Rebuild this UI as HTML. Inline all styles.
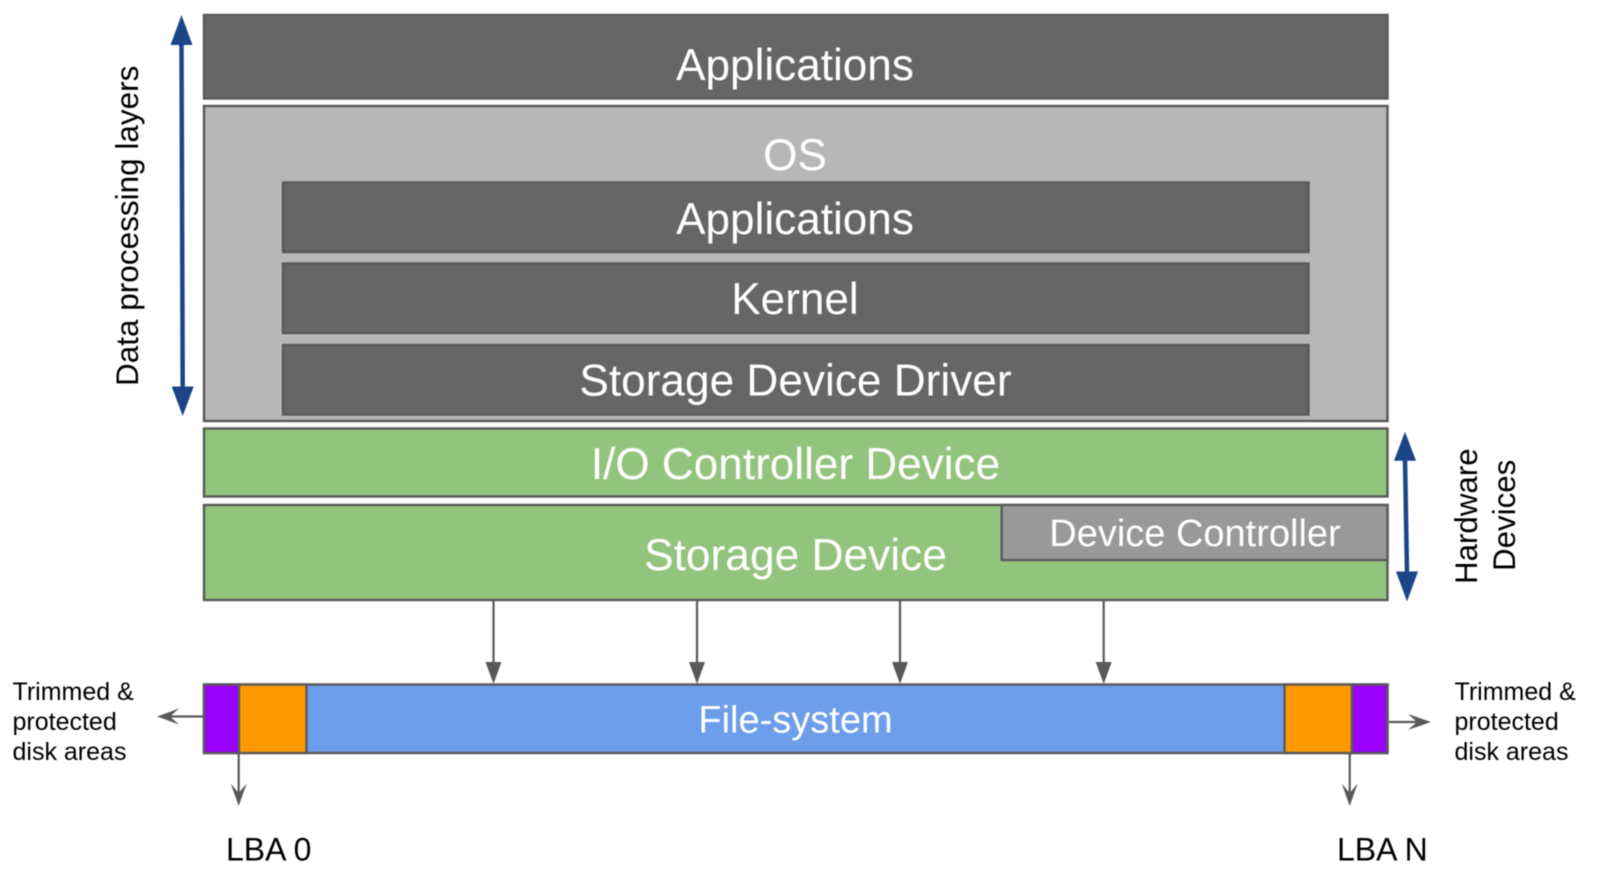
<!DOCTYPE html>
<html>
<head>
<meta charset="utf-8">
<style>
html,body{margin:0;padding:0;background:#fff;width:1600px;height:874px;overflow:hidden}
svg{display:block;filter:blur(0.4px)}
text{font-family:"Liberation Sans",Arial,sans-serif}
.w{fill:#fff;text-anchor:middle}
.b{fill:#000}
</style>
</head>
<body>
<svg width="1600" height="874" viewBox="0 0 1600 874" xmlns="http://www.w3.org/2000/svg">
<rect width="1600" height="874" fill="#fff"/>
<g stroke="#595959" stroke-width="2.4">
<rect x="204" y="15" width="1183.5" height="83.5" fill="#666666"/>
<rect x="204" y="106" width="1183.5" height="315" fill="#b7b7b7"/>
<rect x="283" y="182.5" width="1025.5" height="69.5" fill="#666666"/>
<rect x="283" y="263.5" width="1025.5" height="69.5" fill="#666666"/>
<rect x="283" y="345" width="1025.5" height="69.5" fill="#666666"/>
<rect x="204" y="428.5" width="1183.5" height="68" fill="#93c47d"/>
<rect x="204" y="505" width="1183.5" height="95" fill="#93c47d"/>
<rect x="1001.7" y="505" width="385.8" height="55" fill="#999999"/>
<rect x="204" y="684.5" width="1183.5" height="68.5" fill="#6d9eeb"/>
<rect x="204" y="684.5" width="35" height="68.5" fill="#9900ff"/>
<rect x="239" y="684.5" width="67.5" height="68.5" fill="#ff9900"/>
<rect x="1284.5" y="684.5" width="67.5" height="68.5" fill="#ff9900"/>
<rect x="1352" y="684.5" width="35.5" height="68.5" fill="#9900ff"/>
</g>

<text class="w" x="795" y="80" font-size="44.1">Applications</text>
<text class="w" x="795" y="170" font-size="44.1">OS</text>
<text class="w" x="795" y="234" font-size="44.1">Applications</text>
<text class="w" x="795" y="314" font-size="44.1">Kernel</text>
<text class="w" x="795.5" y="395.5" font-size="44.2">Storage Device Driver</text>
<text class="w" x="795.5" y="479" font-size="44.1">I/O Controller Device</text>
<text class="w" x="795.5" y="570" font-size="44.3">Storage Device</text>
<text class="w" x="1195" y="546" font-size="38">Device Controller</text>
<text class="w" x="795.5" y="732.5" font-size="38">File-system</text>

<g stroke="#595959" stroke-width="2.2" fill="none">
<line x1="493.5" y1="601" x2="493.5" y2="663"/>
<line x1="697" y1="601" x2="697" y2="663"/>
<line x1="900" y1="601" x2="900" y2="663"/>
<line x1="1103.7" y1="601" x2="1103.7" y2="663"/>
<line x1="203" y1="716.5" x2="170" y2="716.5"/>
<line x1="1389" y1="722" x2="1418" y2="722"/>
<line x1="238.7" y1="754" x2="238.7" y2="793"/>
<line x1="1349.7" y1="754" x2="1349.7" y2="793"/>
</g>
<g fill="#595959">
<polygon points="485.5,662 501.5,662 493.5,684"/>
<polygon points="689,662 705,662 697,684"/>
<polygon points="892,662 908,662 900,684"/>
<polygon points="1095.7,662 1111.7,662 1103.7,684"/>
<polygon points="157,716.5 179,708.5 170,716.5 179,724.5"/>
<polygon points="1431,722 1408,714 1417,722 1408,730"/>
<polygon points="238.7,806 230.7,783.5 238.7,793 246.7,783.5"/>
<polygon points="1349.7,806 1341.7,783.5 1349.7,793 1357.7,783.5"/>
</g>

<g stroke="#1c4587" stroke-width="4.5" fill="none">
<line x1="181.5" y1="44" x2="182.7" y2="388"/>
<line x1="1405" y1="459" x2="1407" y2="573"/>
</g>
<g fill="#1c4587">
<polygon points="181.5,15 170.5,45 192.5,45"/>
<polygon points="182.7,416 171.7,386.5 193.7,386.5"/>
<polygon points="1405,431.7 1394,460.7 1416,460.7"/>
<polygon points="1407,601.5 1396,571.5 1418,571.5"/>
</g>

<text class="b" font-size="31.5" transform="translate(138,386) rotate(-90)">Data processing layers</text>
<text class="b" font-size="31.3" transform="translate(1477,584) rotate(-90)">Hardware</text>
<text class="b" font-size="31.3" transform="translate(1515,571) rotate(-90)">Devices</text>

<g class="b" font-size="25">
<text x="12.5" y="700">Trimmed &amp;</text>
<text x="12.5" y="730">protected</text>
<text x="12.5" y="760">disk areas</text>
<text x="1454.5" y="700">Trimmed &amp;</text>
<text x="1454.5" y="730">protected</text>
<text x="1454.5" y="760">disk areas</text>
</g>
<text class="b" x="226" y="860.5" font-size="32">LBA 0</text>
<text class="b" x="1337" y="860.5" font-size="32">LBA N</text>
</svg>
</body>
</html>
